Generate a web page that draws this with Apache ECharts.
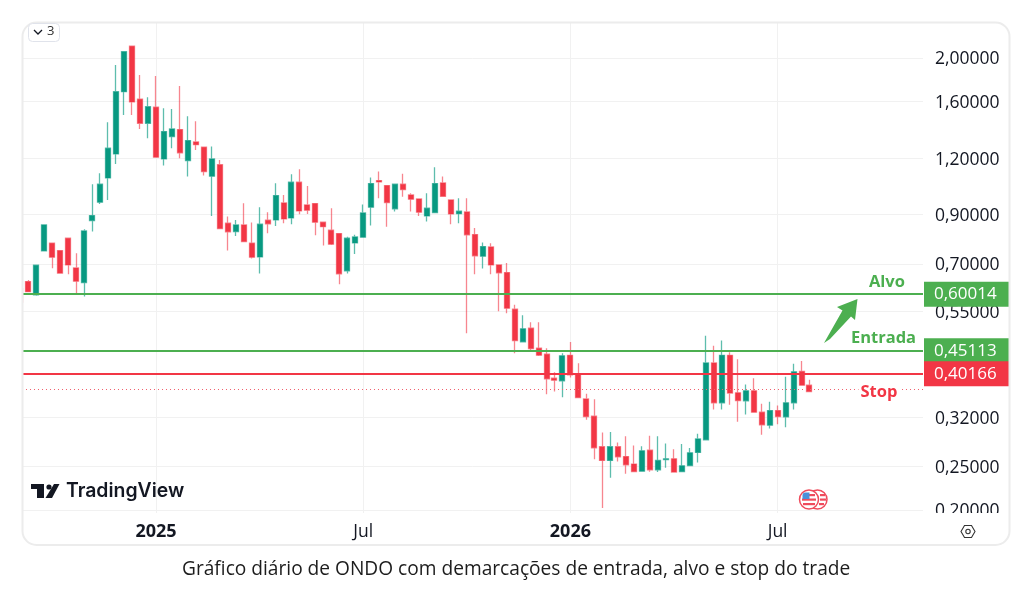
<!DOCTYPE html>
<html><head><meta charset="utf-8">
<style>html,body{margin:0;padding:0;background:#fff}#c{width:1024px;height:599px}</style>
<script src="https://cdn.jsdelivr.net/npm/echarts@6/dist/echarts.min.js"></script>
</head><body><div id="c"></div>
<script>
const opens=[.602,.640,.598,.7483,.778,.7494,.7982,.6861,.6367,.8732,.9590,1.0853,1.2265,1.6846,2.1226,1.6206,1.434,1.5558,1.1957,1.3396,
1.3881,1.1853,1.3038,1.2689,1.0948,1.1611,.8617,.8257,.8542,.778,.7256,.8750,.8763,.9556,.8853,1.0618,.9458,.9522,.8661,.8315,
.8173,.6759,.7794,.8023,.9348,1.0706,1.0436,.927,1.0511,.9953,.9752,.8943,.9095,1.0582,.9703,.9047,.9127,.8131,.7284,.7635,
.6965,.67,.5561,.4707,.5047,.4557,.4421,.3912,.3859,.4394,.3979,.352,.3224,.2758,.2573,.2758,.2624,.2525,.2436,.2711,
.2452,.2585,.2594,.2431,.2507,.2679,.2857,.4229,.345,.4394,.3630,.3485,.3667,.329,.3079,.3317,.3214,.345,.4047,.3775];
const closes=[.600,.608,.6957,.8542,.7247,.668,.6965,.6412,.8286,.8956,1.0511,1.2626,1.6846,2.065,1.5985,1.434,1.5606,1.206,1.374,1.393,
1.233,1.3125,1.2857,1.1208,1.1957,.8383,.8244,.8542,.7846,.7247,.8573,.8587,.9917,.8807,1.0618,.9174,.9207,.8661,.8466,.7742,
.6656,.7983,.8035,.9081,1.0543,1.0635,.957,1.0511,1.0226,.9738,.9113,.9301,1.0543,.9885,.9035,.916,.8123,.7295,.7648,.6965,
.669,.5589,.4738,.5029,.4549,.4398,.3898,.3873,.4383,.3979,.3545,.3217,.2743,.2573,.2758,.262,.2515,.2431,.2701,.2452,
.2572,.2594,.2424,.2503,.2674,.2871,.4229,.345,.4394,.3625,.349,.3667,.329,.3085,.3317,.3217,.345,.4041,.3775,.3654];
const lows=[.5742,.607,.595,.7483,.6846,.668,.6645,.598,.5931,.8257,.9506,.9703,1.1656,1.496,1.496,1.393,1.3287,1.206,1.1555,1.2626,
1.2,1.0925,1.2518,1.0981,.8943,.8383,.7494,.8077,.7846,.7195,.6666,.8189,.8498,.8617,.8573,.9021,.9035,.8106,.7687,.7715,
.6315,.6666,.7369,.8023,.8512,.9788,.8466,.9142,.9865,.9142,.8943,.8688,.9095,.9885,.8573,.8617,.492,.6645,.6838,.6645,
.5504,.5448,.4444,.4691,.4473,.4382,.3606,.3654,.3549,.3925,.354,.3164,.2588,.2018,.2355,.2559,.2403,.2424,.2436,.2428,
.2424,.2477,.2419,.2431,.2507,.2545,.2857,.3334,.3334,.3415,.3131,.325,.329,.2934,.3027,.3095,.3048,.3334,.3775,.3654];
const highs=[.6195,.6455,.6957,.8542,.778,.7494,.7982,.7395,.8358,1.0511,1.1116,1.4413,1.93,2.065,2.1226,1.834,1.637,1.8247,1.548,1.5424,
1.734,1.4863,1.4488,1.273,1.273,1.1896,.8911,.8763,.9541,.8645,.9348,.9113,1.0565,.9953,1.106,1.1345,1.0419,.9541,.8661,.9301,
.8201,.8046,.8123,.9473,1.0871,1.1208,1.0436,1.0511,1.1079,1.0039,.9752,1.0039,1.1461,1.0925,.9703,.9788,.9788,.8413,.7806,.778,
.6965,.7039,.5685,.5393,.5204,.5204,.4557,.4034,.4444,.4701,.4223,.3612,.3515,.2966,.2972,.2818,.2911,.2775,.2767,.2916,
.2911,.2804,.2725,.2796,.2739,.2949,.4853,.4612,.4738,.4467,.431,.3788,.3912,.3432,.3468,.3403,.3938,.4209,.4267,.3879];
const firstWeek=Date.UTC(2024,8,9), firstBar=Date.UTC(2024,8,4), DAY=86400000;
const priceTicks=[2,1.6,1.2,.9,.7,.55,.32,.25,.2];
const timeTicks=[Date.UTC(2024,11,30),Date.UTC(2025,5,30),Date.UTC(2025,11,29),Date.UTC(2026,5,29)];
const timeLabels=['2025','Jul','2026','Jul'];
const alvo=0.60014, entrada=0.45113, stop=0.40166, lastPrice=0.3675;
const GREEN='#4CAF50', RED='#F23645', UP='#089981', GRID='#f1f1f1', INK='#131722';
const FONT='"Open Sans"';

const dates=opens.map((_,i)=>i===0?firstBar:firstWeek+(i-1)*7*DAY);
const rows=opens.map((o,i)=>[dates[i],o,closes[i],lows[i],highs[i]]);
const badge=(bg,txt)=>({show:true,position:'end',distance:1,formatter:txt,color:'#fff',backgroundColor:bg,
  fontFamily:FONT,fontSize:17,width:65,align:'left',padding:[4,10,3,10],lineHeight:18});
const note=(t,c,d,p)=>({coord:[d,p],symbol:'circle',symbolSize:1,itemStyle:{color:'transparent'},
  label:{show:true,position:'inside',formatter:t,color:c,fontFamily:FONT,fontWeight:700,fontSize:16.5,
  backgroundColor:t==='Stop'?'#fff':'transparent',padding:[0,2]}});

const chart=echarts.init(document.getElementById('c'),null,{renderer:'canvas'});
chart.setOption({
  animation:false,backgroundColor:'#fff',
  title:{text:'Gráfico diário de ONDO com demarcações de entrada, alvo e stop do trade',left:177,top:555,
    textStyle:{fontFamily:'"Open Sans"',fontSize:19.15,fontWeight:400,color:'#1c1c1c'}},
  grid:{left:22,right:101,top:22,bottom:86},
  xAxis:{type:'value',scale:true,min:Date.UTC(2024,8,3,7),max:Date.UTC(2026,10,3,17),
    axisLine:{show:false},axisTick:{show:false,customValues:timeTicks},
    splitLine:{show:true,lineStyle:{color:GRID,width:1}},
    axisLabel:{customValues:timeTicks,margin:10,hideOverlap:false,showMinLabel:true,showMaxLabel:true,
      formatter:v=>{const t=timeLabels[timeTicks.indexOf(+v)]||'';return t==='Jul'?'{n|Jul}':'{b|'+t+'}';},
      rich:{n:{fontFamily:FONT,fontSize:17.5,color:INK},b:{fontFamily:FONT,fontSize:18,fontWeight:700,color:INK}}}},
  yAxis:{type:'log',logBase:10,position:'right',min:0.1968,max:2.402,
    axisLine:{show:false},axisTick:{show:false,customValues:priceTicks},
    splitLine:{show:true,lineStyle:{color:GRID,width:1}},
    axisLabel:{customValues:priceTicks,margin:12,
      showMinLabel:true,showMaxLabel:true,
      formatter:v=>'{p|'+(+v).toFixed(5).replace('.',',')+'}',
      rich:{p:{fontFamily:FONT,fontSize:17.5,color:INK,padding:[3,0,0,0]}}}},
  series:[
   {type:'line',z:1,data:[],silent:true,
    markLine:{silent:true,symbol:'none',animation:false,data:[
      {yAxis:lastPrice,lineStyle:{color:'#f0606e',type:[1,3],width:1},label:{show:false}},
      {yAxis:alvo,lineStyle:{color:GREEN,type:'solid',width:2},label:badge(GREEN,'0,60014')},
      {yAxis:entrada,lineStyle:{color:GREEN,type:'solid',width:2},label:badge(GREEN,'0,45113')},
      {yAxis:stop,lineStyle:{color:RED,type:'solid',width:2},label:badge(RED,'0,40166')}]},
    markPoint:{silent:true,animation:false,data:[
      note('Alvo',GREEN,Date.UTC(2026,9,3),0.637),
      note('Entrada',GREEN,Date.UTC(2026,8,30),0.480),
      note('Stop',RED,Date.UTC(2026,8,26),0.364)]}},
   {type:'candlestick',z:3,data:rows,encode:{x:0,y:[1,2,3,4]},barWidth:5.5,clip:true,
    itemStyle:{color:UP,color0:RED,borderColor:'rgba(8,153,129,.65)',borderColor0:'rgba(242,54,69,.6)',borderWidth:1.3}}
  ],
  graphic:[
   {type:'rect',z:50,shape:{x:925,y:513,width:83,height:31},style:{fill:'#fff'}},
   {type:'rect',z:50,shape:{x:0,y:0,width:22,height:599},style:{fill:'#fff'}},
   {type:'rect',z:60,shape:{x:22.5,y:22.5,width:987,height:522.5,r:14},style:{fill:'none',stroke:'#ececec',lineWidth:2}},
   {type:'rect',z:60,shape:{x:28.5,y:23.5,width:31,height:18,r:4},style:{fill:'#fff',stroke:'#e0e3eb',lineWidth:1}},
   {type:'polyline',z:61,shape:{points:[[34,30],[38,34],[42,30]]},style:{fill:'none',stroke:INK,lineWidth:1.3}},
   {type:'text',z:61,x:47,y:25,style:{text:'3',font:'13px "Open Sans"',fill:'#333'}},
   {type:'polygon',z:61,shape:{points:[[824,343],[842.5,310.5],[837,307],[857.5,299],[855,320],[851,316.5],[830,339]]},style:{fill:GREEN}},
   {type:'polygon',z:40,shape:{points:[[31,484],[44,484],[44,498],[37,498],[37,489],[31,489]]},style:{fill:INK}},
   {type:'circle',z:40,shape:{cx:49,cy:487,r:2.6},style:{fill:INK}},
   {type:'polygon',z:40,shape:{points:[[54,484],[59.5,484],[52,498],[45.5,498]]},style:{fill:INK}},
   {type:'text',z:40,x:66,y:482,style:{text:'TradingView',font:'600 19.4px Inter',fill:INK}},
   {type:'group',z:40,children:[
     {type:'circle',z:40,shape:{cx:817.5,cy:499.5,r:9.5},style:{fill:'#fff',stroke:'#ef4b5c',lineWidth:1.5}},
     {type:'rect',z:40,shape:{x:820,y:494,width:5,height:2.2},style:{fill:'#ef4b5c'}},
     {type:'rect',z:40,shape:{x:820,y:498.5,width:6,height:2.2},style:{fill:'#ef4b5c'}},
     {type:'rect',z:40,shape:{x:819,y:503,width:5,height:2.2},style:{fill:'#ef4b5c'}},
     {type:'circle',z:41,shape:{cx:809,cy:499.5,r:9.5},style:{fill:'#fff',stroke:'#ef4b5c',lineWidth:1.5}},
     {type:'rect',z:41,shape:{x:802,y:498.5,width:14,height:2.2},style:{fill:'#ef4b5c'}},
     {type:'rect',z:41,shape:{x:803,y:503,width:12,height:2.2},style:{fill:'#ef4b5c'}},
     {type:'rect',z:41,shape:{x:809,y:494,width:6,height:2.2},style:{fill:'#ef4b5c'}},
     {type:'rect',z:42,shape:{x:802.5,y:492.5,width:7,height:6.5,r:[3,0,0,0]},style:{fill:'#4a90d9'}}]},
   {type:'polygon',z:61,shape:{points:[[961,531.5],[964.5,525.5],[971.5,525.5],[975,531.5],[971.5,537.5],[964.5,537.5]]},style:{fill:'#fff',stroke:'#333',lineWidth:1.1}},
   {type:'circle',z:62,shape:{cx:968,cy:531.5,r:2.2},style:{fill:'#fff',stroke:'#333',lineWidth:1.1}}
  ]
});
</script></body></html>
